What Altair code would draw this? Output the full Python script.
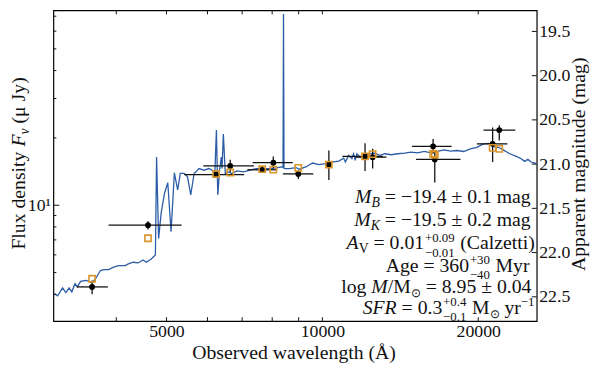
import altair as alt
import pandas as pd

# ---------------- data ----------------
spec_wave = [3030, 3082, 3150, 3197, 3243, 3282, 3330, 3364, 3414, 3490,
             3541, 3592, 3647, 3728, 3782, 3866, 3953, 4040, 4160, 4221,
             4313, 4409, 4506, 4572, 4673, 4760, 4785, 4828, 4884, 4957,
             5029, 5103, 5179, 5255, 5317, 5411, 5490, 5570, 5654, 5779,
             5907, 6039, 6126, 6200, 6243, 6282, 6332, 6380, 6402, 6439,
             6495, 6592, 6688, 6838, 7041, 7249, 7464, 7687, 7913, 8147,
             8346, 8395, 8413, 8432, 8475, 8637, 8895, 9025, 9294, 9572, 9852, 10146,
             10448, 10755, 10994, 11076, 11238, 11405, 11486, 11572, 11659, 11830,
             12090, 12360, 12630, 12910, 13200, 13590, 13990, 14410, 14840, 15280,
             15730, 16200, 16680, 17180, 17690, 18200, 18750, 19310, 19880, 20470,
             20920, 21390, 21860, 22350, 23010, 23690, 24210, 24580, 24940, 25290, 25940]
spec_flux = [4.031, 3.937, 4.272, 4.072, 4.272, 4.101, 4.462, 4.314, 4.566, 4.613,
             4.566, 4.506, 4.693, 5.107, 5.159, 5.159, 5.286, 5.373, 5.373, 5.467,
             5.561, 5.522, 5.692, 5.561, 5.750, 5.988, 16.41, 7.096, 9.24, 11.32,
             12.60, 7.616, 13.95, 11.70, 13.87, 13.87, 13.40, 11.13, 13.87, 14.59,
             14.34, 14.59, 14.34, 13.87, 21.68, 11.13, 14.34, 16.41, 14.59, 20.81,
             13.87, 14.09, 13.87, 14.24, 14.09, 14.34, 14.59, 14.59, 14.59, 14.68,
             14.83, 14.80, 71.54, 14.60, 14.59, 14.59, 14.74, 14.49, 14.83, 15.44, 15.19, 15.35,
             15.60, 15.76, 16.25, 15.60, 16.70, 16.15, 16.99, 15.87, 16.99, 16.41,
             16.70, 16.99, 17.09, 16.70, 16.99, 16.82, 16.99, 17.09, 17.27, 17.16,
             17.39, 17.16, 17.39, 17.69, 17.44, 17.57, 17.39, 17.87, 18.16, 18.80,
             18.92, 18.29, 18.16, 17.69, 16.99, 16.53, 16.15, 15.71, 16.03, 15.60, 15.35]

phot_wave = [3592, 4606, 6639, 6235, 8041, 7653, 8985, 10294, 12090, 12506, 16363, 16485, 21320, 21960]
phot_wlo = [3355, 3865, 5889, 5413, 7334, 7166, 8390, 10294, 10930, 11600, 14900, 15170, 19880, 20470]
phot_whi = [3853, 5348, 7377, 7062, 8766, 8184, 9605, 10294, 13100, 13299, 17770, 18480, 22770, 23580]
phot_flux = [4.314, 8.145, 14.98, 13.72, 15.50, 14.41, 13.81, 15.20, 16.53, 16.41, 18.35, 16.03, 18.81, 21.68]
phot_flo = [4.003, 7.798, 14.09, 13.40, 14.59, 14.10, 13.09, 12.96, 14.24, 14.59, 16.99, 12.63, 15.60, 19.45]
phot_fhi = [4.613, 8.483, 15.99, 14.05, 16.53, 14.75, 14.34, 17.57, 18.92, 17.87, 19.77, 17.27, 22.26, 22.80]
model_flux = [4.693, 7.117, 14.01, 13.79, 14.44, 14.49, 14.68, 15.20, 16.53, 16.92, 16.99, 16.82, 18.06, 17.87]

x_major = [5000, 10000, 20000]
x_minor = [4000, 6000, 7000, 8000, 9000]
y_major = [10]
y_minor = [4, 5, 6, 7, 8, 9, 20, 30, 40, 50, 60, 70]
mag_ticks = [19.5, 20.0, 20.5, 21.0, 21.5, 22.0, 22.5]

# ---------------- styling ----------------
W, H = 490, 315
FONT = "Liberation Serif"
BLUE = "#2b5ca6"
ORANGE = "#d9952a"
INK = "#111111"

xscale = alt.Scale(type="log", domain=[3024, 25940], nice=False)
yscale = alt.Scale(type="log", domain=[3.033, 74.3], nice=False)
mscale = alt.Scale(type="linear", domain=[19.2625, 22.775], reverse=True, nice=False, zero=False)

common = dict(title=None, ticks=False, domain=False, grid=False,
              labelFont=FONT, labelFontSize=18, labelColor=INK)
xaxis = alt.Axis(values=x_major, format="d", labelPadding=2, **common)
yaxis = alt.Axis(values=y_major, labelExpr="'10\u00b9'", labelPadding=3, **common)
maxis = alt.Axis(orient="right", values=mag_ticks, format=".1f", labelPadding=2, **common)


def X(f):
    return alt.X(f"{f}:Q", scale=xscale, axis=xaxis)


def Y(f):
    return alt.Y(f"{f}:Q", scale=yscale, axis=yaxis)


spec_df = pd.DataFrame({"wave": spec_wave, "flux": spec_flux})
phot_df = pd.DataFrame({"wave": phot_wave, "wlo": phot_wlo, "whi": phot_whi,
                        "flux": phot_flux, "flo": phot_flo, "fhi": phot_fhi,
                        "model": model_flux})

spec = alt.Chart(spec_df).mark_line(color=BLUE, strokeWidth=1.3, clip=True).encode(
    x=X("wave"), y=Y("flux"))
xerr = alt.Chart(phot_df).mark_rule(color=INK, strokeWidth=1.3).encode(
    x=X("wlo"), x2="whi", y=Y("flux"))
yerr = alt.Chart(phot_df).mark_rule(color=INK, strokeWidth=1.3).encode(
    x=X("wave"), y=Y("flo"), y2="fhi")
pts = alt.Chart(phot_df).mark_circle(size=34, color="black", opacity=1).encode(
    x=X("wave"), y=Y("flux"))
mods = alt.Chart(phot_df).mark_point(shape="square", filled=False, size=40, color=ORANGE,
                                     strokeWidth=1.6, opacity=1).encode(
    x=X("wave"), y=Y("model"))

xt_df = pd.DataFrame({"v": x_major + x_minor})
xb = alt.Chart(xt_df).mark_rule(color=INK, strokeWidth=1).encode(
    x=X("v"), y=alt.value(H), y2=alt.value(H - 4))
xtop = alt.Chart(xt_df).mark_rule(color=INK, strokeWidth=1).encode(
    x=X("v"), y=alt.value(0), y2=alt.value(4))
ylmaj = alt.Chart(pd.DataFrame({"v": y_major})).mark_rule(color=INK, strokeWidth=1).encode(
    y=Y("v"), x=alt.value(0), x2=alt.value(6))
ylmin = alt.Chart(pd.DataFrame({"v": y_minor})).mark_rule(color=INK, strokeWidth=1).encode(
    y=Y("v"), x=alt.value(0), x2=alt.value(3))
mag = alt.Chart(pd.DataFrame({"m": mag_ticks})).mark_rule(color=INK, strokeWidth=1).encode(
    y=alt.Y("m:Q", scale=mscale, axis=maxis), x=alt.value(W - 5), x2=alt.value(W))

# ---------------- text helpers (Times / Liberation Serif advance widths) ----------------
REG = {" ": 250, ".": 250, "=": 564, "\u2212": 564, "\u00b1": 564, "+": 564,
       "(": 333, ")": 333, "/": 278, "A": 722, "C": 667, "M": 889, "V": 722,
       "J": 389, "F": 556, "a": 444, "c": 444, "d": 500, "e": 444, "g": 500,
       "i": 278, "l": 278, "m": 778, "n": 500, "o": 500, "r": 333, "s": 389,
       "t": 278, "u": 500, "x": 500, "y": 500, "z": 444, "\u03bc": 500,
       "\u2299": 840}
ITA = {"M": 833, "B": 611, "K": 667, "A": 611, "S": 500, "F": 611, "R": 611,
       "\u03bd": 444}


def width(s, size, italic=False):
    tot = 0
    for c in s:
        if italic and c in ITA:
            tot += ITA[c]
        else:
            tot += REG.get(c, 500)
    return tot / 1000.0 * size


one = pd.DataFrame({"a": [0]})


def txt(s, x, y, size=20, align="left", italic=False, angle=0):
    return alt.Chart(one).mark_text(
        text=s, align=align, baseline="alphabetic", fontSize=size, font=FONT,
        fontStyle="italic" if italic else "normal", color=INK, angle=angle
    ).encode(x=alt.value(x), y=alt.value(y))


SCR = 13  # script size


def line(segs, right, base):
    """segs: list of (text, size, italic, dy) or ('STACK', sup, sub)."""
    widths = []
    for s in segs:
        if s[0] == "STACK":
            widths.append(max(width(s[1], SCR), width(s[2], SCR)) + 1.5)
        else:
            widths.append(width(s[0], s[1], s[2]))
    x = right - sum(widths)
    out = []
    for s, w in zip(segs, widths):
        if s[0] == "STACK":
            out.append(txt(s[1], x + 0.8, base - 7.5, size=SCR))
            out.append(txt(s[2], x + 0.8, base + 7.5, size=SCR))
        else:
            t, size, it, dy = s
            lead = len(t) - len(t.lstrip())
            out.append(txt(t.strip(), x + width(" " * lead, size), base + dy, size=size, italic=it))
        x += w
    return out


M = "\u2212"
SUN = "\u2299"
texts = []
texts += line([("M", 20, True, 0), ("B", 14, True, 4),
               (f" = {M}19.4 \u00b1 0.1 mag", 20, False, 0)], 484.3, 195.3)
texts += line([("M", 20, True, 0), ("K", 14, True, 4),
               (f" = {M}19.5 \u00b1 0.2 mag", 20, False, 0)], 484.3, 218.7)
texts += line([("A", 20, True, 0), ("V", 14, False, 4), (" = 0.01", 20, False, 0),
               ("STACK", "+0.09", f"{M}0.01"), (" (Calzetti)", 20, False, 0)], 488, 242)
texts += line([("Age = 360", 20, False, 0), ("STACK", "+30", f"{M}40"),
               (" Myr", 20, False, 0)], 482.7, 264.7)
texts += line([("log ", 20, False, 0), ("M", 20, True, 0), ("/M", 20, False, 0),
               (SUN, 12, False, 4), (" = 8.95 \u00b1 0.04", 20, False, 0)], 485, 286.3)
texts += line([("SFR", 20, True, 0), (" = 0.3", 20, False, 0),
               ("STACK", "+0.4", f"{M}0.1"), (" M", 20, False, 0),
               (SUN, 12, False, 4), (" yr", 20, False, 0), (f"{M}1", SCR, False, -8)],
              487.7, 307.5)

# axis titles
texts.append(txt("Observed wavelength (\u00c5)", 244, 353, align="center"))
texts.append(txt("Apparent magnitude (mag)", 539, 156, align="center", angle=270))

# left title: "Flux density F_nu (mu Jy)" rotated, built from pieces
lt = [("Flux density ", 20, False, 0), ("F", 20, True, 0), ("\u03bd", 14, True, 4),
      (" (\u03bc Jy)", 20, False, 0)]
lt_w = [width(t, s, i) for t, s, i, _ in lt]
ly = 155.5 + sum(lt_w) / 2
for (t, s, i, dy), w in zip(lt, lt_w):
    lead = len(t) - len(t.lstrip())
    texts.append(txt(t.strip(), -29 + dy, ly - width(" " * lead, s), size=s, italic=i, angle=270))
    ly -= w

inner = alt.layer(spec, xerr, yerr, pts, mods, xb, xtop, ylmaj, ylmin, *texts)

chart = alt.layer(inner, mag).resolve_scale(y="independent").properties(
    width=W, height=H,
    padding={"left": 46, "top": 0, "right": 54, "bottom": 41},
    autosize=alt.AutoSizeParams(type="none"),
).configure_view(stroke="black", strokeWidth=1.2)

chart.save("out.html", embed_options={"renderer": "svg", "actions": False})
